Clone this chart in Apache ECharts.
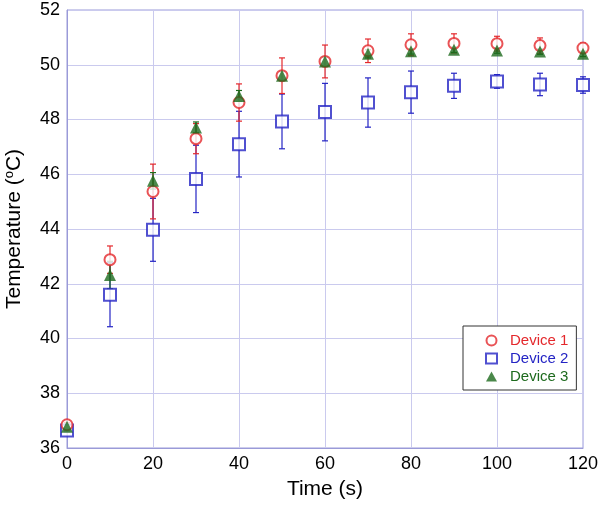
<!DOCTYPE html>
<html>
<head>
<meta charset="utf-8">
<script src="https://cdn.jsdelivr.net/npm/echarts@6/dist/echarts.min.js"></script>
<style>html,body{margin:0;padding:0;background:#fff;}#c{width:600px;height:507px;}</style>
</head>
<body>
<div id="c"></div>
<script>
const times = [0, 10, 20, 30, 40, 50, 60, 70, 80, 90, 100, 110, 120];
const dev1 = [36.85, 42.88, 45.37, 47.30, 48.62, 49.60, 50.12, 50.51, 50.73, 50.78, 50.77, 50.70, 50.61];
const dev1Err = [0.08, 0.5, 1.0, 0.55, 0.68, 0.65, 0.6, 0.43, 0.4, 0.35, 0.27, 0.28, 0.18];
const dev2 = [36.64, 41.60, 43.97, 45.83, 47.10, 47.93, 48.27, 48.62, 49.00, 49.23, 49.39, 49.28, 49.26];
const dev2Err = [0.05, 1.17, 1.15, 1.23, 1.2, 1.0, 1.05, 0.9, 0.77, 0.46, 0.25, 0.41, 0.3];
const dev3 = [36.78, 42.32, 45.76, 47.71, 48.86, 49.60, 50.12, 50.40, 50.49, 50.55, 50.52, 50.48, 50.40];
const dev3Err = [0.08, 0.5, 0.3, 0.2, 0.2, 0.15, 0.15, 0.15, 0.1, 0.1, 0.1, 0.1, 0.1];
const seriesNames = ['Device 1', 'Device 2', 'Device 3'];
const colors = ['#e4282c', '#2424c4', '#1d6a1d'];
const xTicks = [0, 20, 40, 60, 80, 100, 120];
const yTicks = [36, 38, 40, 42, 44, 46, 48, 50, 52];

function errData(vals, errs) {
  return times.map((t, i) => [t, vals[i] - errs[i], vals[i] + errs[i]]);
}
function errSeries(vals, errs, color) {
  return {
    type: 'custom',
    data: errData(vals, errs),
    silent: true,
    z: 1,
    renderItem: function (params, api) {
      const x = api.value(0);
      const lo = api.coord([x, api.value(1)]);
      const hi = api.coord([x, api.value(2)]);
      const w = 3;
      const st = { stroke: color, lineWidth: 1.2 };
      return {
        type: 'group',
        children: [
          { type: 'line', shape: { x1: lo[0], y1: lo[1], x2: hi[0], y2: hi[1] }, style: st },
          { type: 'line', shape: { x1: lo[0] - w, y1: lo[1], x2: lo[0] + w, y2: lo[1] }, style: st },
          { type: 'line', shape: { x1: hi[0] - w, y1: hi[1], x2: hi[0] + w, y2: hi[1] }, style: st }
        ]
      };
    }
  };
}

const chart = echarts.init(document.getElementById('c'), null, { renderer: 'canvas' });
const font = 'Liberation Sans, Arial, sans-serif';
chart.setOption({
  animation: false,
  textStyle: { fontFamily: font },
  grid: { left: 67, right: 17, top: 10, bottom: 59, containLabel: false, outerBoundsMode: 'none', show: true, borderColor: '#9a9ad8', borderWidth: 1 },
  xAxis: {
    type: 'value', min: 0, max: 120, interval: 20,
    name: 'Time (s)', nameLocation: 'middle', nameGap: 31,
    nameTextStyle: { fontSize: 21, color: '#000', fontFamily: font },
    axisLine: { show: true, lineStyle: { color: '#9a9ad8' } },
    axisTick: { show: false },
    axisLabel: { fontSize: 18, color: '#000', margin: 7, fontFamily: font, formatter: v => xTicks.includes(v) ? String(v) : '' },
    splitLine: { show: true, lineStyle: { color: '#cacaee', width: 1 } }
  },
  yAxis: {
    type: 'value', min: 36, max: 52, interval: 2,
    name: '{n|Temperature (}{s|o}{n|C)}', nameLocation: 'middle', nameGap: 42,
    nameTextStyle: {
      color: '#000', fontFamily: font,
      rich: { n: { fontSize: 21, color: '#000', fontFamily: font }, s: { fontSize: 13, color: '#000', fontFamily: font, verticalAlign: 'top', padding: [0, 0, 9, 0] } }
    },
    axisLine: { show: true, lineStyle: { color: '#9a9ad8' } },
    axisTick: { show: false },
    axisLabel: { fontSize: 18, color: '#000', margin: 7, fontFamily: font, formatter: v => yTicks.includes(v) ? String(v) : '' },
    splitLine: { show: true, lineStyle: { color: '#cacaee', width: 1 } }
  },
  legend: {
    orient: 'vertical', left: 463, top: 326,
    backgroundColor: '#fff', borderColor: '#333', borderWidth: 1,
    padding: [7, 8, 6, 22], itemGap: 3, itemWidth: 11, itemHeight: 10,
    data: [
      { name: seriesNames[0], icon: 'emptyCircle', textStyle: { color: colors[0] } },
      { name: seriesNames[1], icon: 'emptyRect', textStyle: { color: colors[1] } },
      { name: seriesNames[2], icon: 'triangle', textStyle: { color: colors[2] } }
    ],
    textStyle: { fontSize: 15, fontFamily: font, padding: [0, 0, 0, 8] }
  },
  series: [
    errSeries(dev2, dev2Err, colors[1]),
    errSeries(dev1, dev1Err, colors[0]),
    errSeries(dev3, dev3Err, colors[2]),
    {
      name: seriesNames[1], type: 'scatter', symbol: 'emptyRect', symbolSize: 12, z: 3,
      itemStyle: { color: colors[1], borderColor: colors[1], borderWidth: 1.3 },
      data: times.map((t, i) => [t, dev2[i]])
    },
    {
      name: seriesNames[0], type: 'scatter', symbol: 'emptyCircle', symbolSize: 11, z: 4,
      itemStyle: { color: colors[0], borderColor: colors[0], borderWidth: 1.2 },
      data: times.map((t, i) => [t, dev1[i]])
    },
    {
      name: seriesNames[2], type: 'scatter', symbol: 'triangle', symbolSize: 12, z: 5,
      itemStyle: { color: colors[2] },
      data: times.map((t, i) => [t, dev3[i]])
    }
  ]
});
</script>
</body>
</html>
